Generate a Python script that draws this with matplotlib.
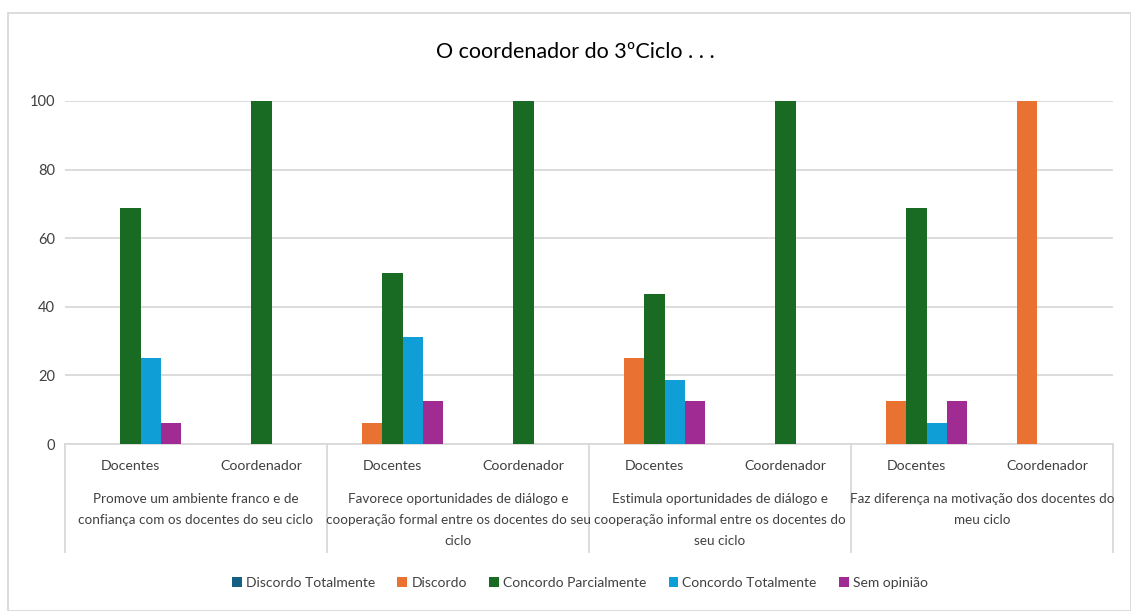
import matplotlib
matplotlib.use('Agg')
import matplotlib.pyplot as plt
import numpy as np
from matplotlib.patches import Rectangle

# Dados
questoes = [
    'Promove um ambiente franco e de\nconfiança com os docentes do seu ciclo',
    'Favorece oportunidades de diálogo e\ncooperação formal entre os docentes do seu\nciclo',
    'Estimula oportunidades de diálogo e\ncooperação informal entre os docentes do\nseu ciclo',
    'Faz diferença na motivação dos docentes do\nmeu ciclo',
]
grupos = ['Docentes', 'Coordenador'] * 4

series = ['Discordo Totalmente', 'Discordo', 'Concordo Parcialmente',
          'Concordo Totalmente', 'Sem opinião']
discordo_totalmente = [0, 0, 0, 0, 0, 0, 0, 0]
discordo = [0, 0, 6.25, 0, 25, 0, 12.5, 100]
concordo_parcialmente = [68.75, 100, 50, 100, 43.75, 100, 68.75, 0]
concordo_totalmente = [25, 0, 31.25, 0, 18.75, 0, 6.25, 0]
sem_opiniao = [6.25, 0, 12.5, 0, 12.5, 0, 12.5, 0]
valores = [discordo_totalmente, discordo, concordo_parcialmente,
           concordo_totalmente, sem_opiniao]
cores = ['#156082', '#E97132', '#196B24', '#0F9ED5', '#A02B93']

plt.rcParams['font.family'] = ['Lato', 'DejaVu Sans']
texto = '#404040'

fig = plt.figure(figsize=(11.31, 6.11), dpi=100)
W, H = 1131, 611
ax = fig.add_axes([65 / W, 1 - 444 / H, (1113 - 65) / W, (444 - 101) / H])

x = np.arange(len(grupos))
w = 0.153
for i, (nome, vals, cor) in enumerate(zip(series, valores, cores)):
    ax.bar(x + (i - 2) * w, vals, width=w, color=cor, label=nome,
           zorder=3, clip_on=False)

ax.set_xlim(-0.5, len(grupos) - 0.5)
ax.set_ylim(0, 100)
ax.set_yticks([0, 20, 40, 60, 80, 100])
ax.tick_params(axis='y', length=0, labelsize=10.5, labelcolor=texto, pad=7)
ax.set_xticks([])
ax.grid(axis='y', color='#d9d9d9', linewidth=1.3, zorder=0)
for s in ['top', 'right', 'left']:
    ax.spines[s].set_visible(False)
ax.spines['bottom'].set_color('#d9d9d9')
ax.spines['bottom'].set_linewidth(1.3)

# Eixo de categorias em dois níveis
tr = ax.get_xaxis_transform()
for i, g in enumerate(grupos):
    ax.text(i, -0.064, g, transform=tr, ha='center', va='center',
            fontsize=10.2, color=texto)
for j, q in enumerate(questoes):
    ax.text(2 * j + 0.5, -0.143, q, transform=tr, ha='center', va='top',
            fontsize=9.7, color=texto, linespacing=1.88)
for xs in [-0.5, 1.5, 3.5, 5.5, 7.5]:
    ax.plot([xs, xs], [0, -0.315], transform=tr, color='#d9d9d9',
            linewidth=1.3, clip_on=False)

fig.text(575 / W, 1 - 52 / H, 'O coordenador do 3ºCiclo . . .',
         ha='center', va='center', fontsize=15.5, color='black')

fig.legend(loc='center', bbox_to_anchor=(580 / W, 1 - 583 / H), ncol=5,
           frameon=False, fontsize=10, handlelength=0.7, handleheight=0.7,
           handletextpad=0.3, columnspacing=1.6, labelcolor=texto)

# Moldura do gráfico
fig.patches.append(Rectangle((8 / W, 0), 1 - 8 / W, 1 - 13 / H,
                             transform=fig.transFigure, fill=False,
                             edgecolor='#d9d9d9', linewidth=1.3))

fig.savefig('out.png', dpi=100)
